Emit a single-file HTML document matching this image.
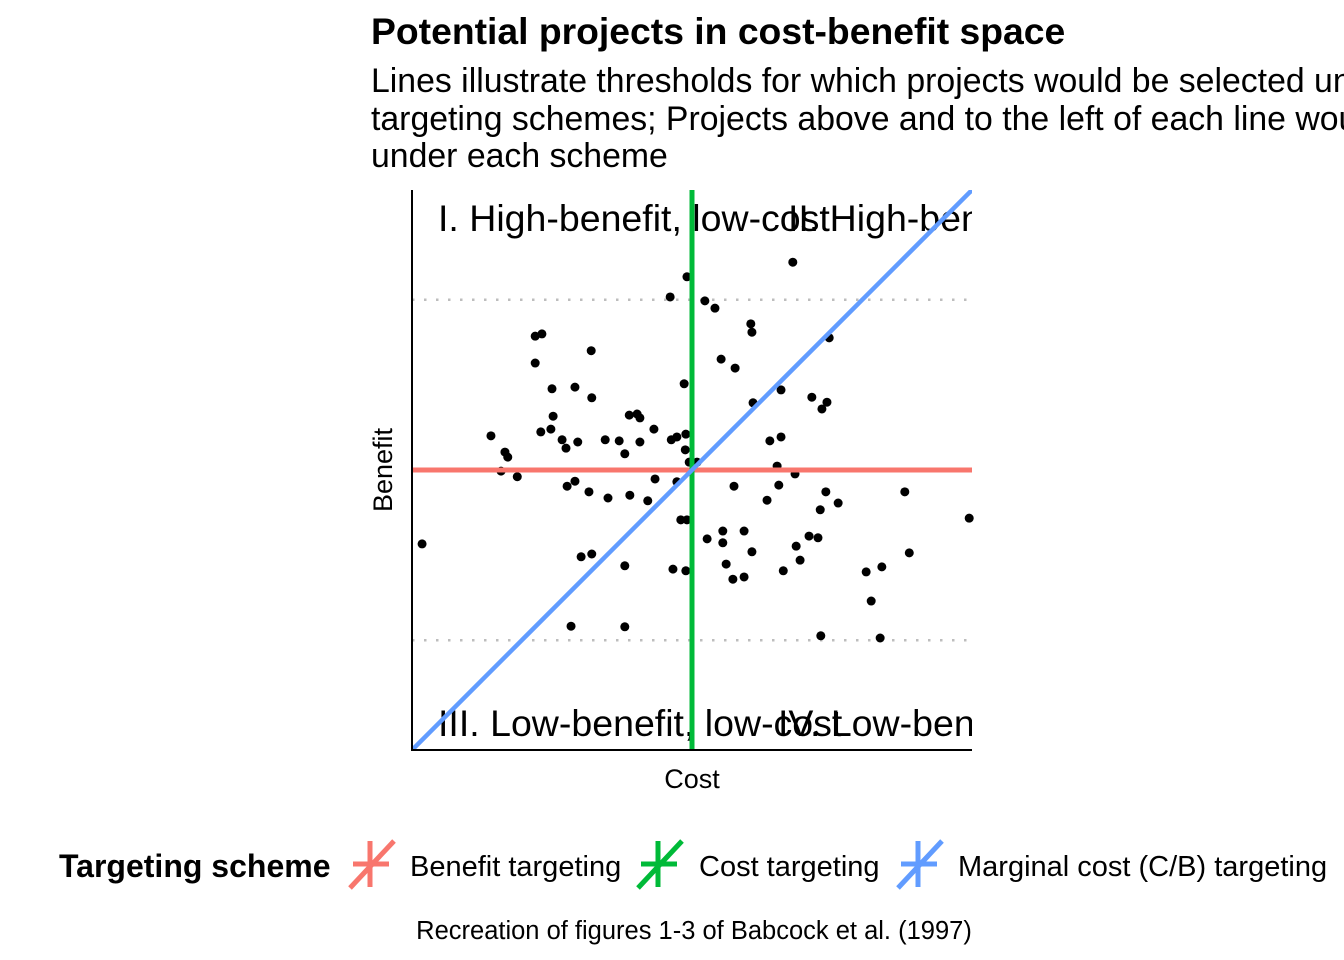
<!DOCTYPE html>
<html><head><meta charset="utf-8"><style>
body{margin:0;background:#fff;width:1344px;height:960px;overflow:hidden}
svg{display:block;font-family:"Liberation Sans",Arial,sans-serif}
</style></head><body>
<svg id="chart" width="1344" height="960">
<defs><clipPath id="pc"><rect x="412" y="190" width="560" height="560"/></clipPath></defs>
<text x="371" y="44" font-size="37.3" font-weight="bold">Potential projects in cost-benefit space</text>
<g font-size="33.8">
<text x="371" y="92">Lines illustrate thresholds for which projects would be selected under different</text>
<text x="371" y="130">targeting schemes; Projects above and to the left of each line would be selected</text>
<text x="371" y="167">under each scheme</text>
</g>
<g id="grid"></g>
<g clip-path="url(#pc)" font-size="37.5">
<text x="438" y="231">I. High-benefit, low-cost</text>
<text x="788" y="231">II. High-benefit, high-cost</text>
<text x="438" y="736">III. Low-benefit, low-cost</text>
<text x="778" y="736">IV. Low-benefit, high-cost</text>
</g>
<g id="points"></g>
<g id="lines" clip-path="url(#pc)"></g>
<line x1="412" y1="190" x2="412" y2="751" stroke="#000" stroke-width="2"/>
<line x1="411" y1="750" x2="972" y2="750" stroke="#000" stroke-width="2"/>
<text x="692" y="788" font-size="27" text-anchor="middle">Cost</text>
<text transform="translate(392,470) rotate(-90)" font-size="27" text-anchor="middle">Benefit</text>
<g>
<text x="59" y="877" font-size="32" font-weight="bold">Targeting scheme</text>
<g><g stroke="#F8766D" stroke-width="5"><line x1="370" y1="841" x2="370" y2="887"/><line x1="353" y1="864" x2="389" y2="864"/><line x1="350" y1="888" x2="394" y2="841"/></g><text x="410" y="876" font-size="29">Benefit targeting</text></g>
<g><g stroke="#00BA38" stroke-width="5"><line x1="658" y1="841" x2="658" y2="887"/><line x1="641" y1="864" x2="677" y2="864"/><line x1="638" y1="888" x2="682" y2="841"/></g><text x="699" y="876" font-size="29">Cost targeting</text></g>
<g><g stroke="#619CFF" stroke-width="5"><line x1="918" y1="841" x2="918" y2="887"/><line x1="901" y1="864" x2="937" y2="864"/><line x1="898" y1="888" x2="942" y2="841"/></g><text x="958" y="876" font-size="29">Marginal cost (C/B) targeting</text></g>
</g>
<text x="694" y="939" font-size="25.5" text-anchor="middle">Recreation of figures 1-3 of Babcock et al. (1997)</text>
</svg>
<script>
const costs=[49.1,46.1,22.0,23.2,22.0,32.0,25.0,29.1,32.1,25.2,38.8,40.2,40.7,23.0,24.8,14.1,16.6,17.1,26.8,27.5,29.6,34.5,37.0,40.7,38.0,43.2,48.6,46.3,47.3,48.9,48.8,49.5,50.9,15.9,18.8,27.7,29.1,31.6,35.0,38.9,42.1,43.4,47.3,48.0,49.1,1.8,30.2,32.1,38.0,46.6,48.9,28.4,38.0,68.0,52.3,54.1,60.5,60.7,74.5,55.2,57.7,65.9,60.9,71.4,74.1,73.2,63.9,65.9,65.2,68.4,57.5,65.5,63.4,73.9,76.1,72.9,88.0,99.5,52.7,55.5,55.5,59.3,60.7,56.1,57.3,59.3,66.3,68.6,69.3,70.9,72.5,81.1,83.9,88.8,82.0,73.0,83.6];
const benefits=[84.5,80.9,73.9,74.3,69.1,71.3,64.5,64.8,62.9,59.6,59.8,60.0,59.3,56.8,57.3,56.1,53.2,52.3,55.4,53.9,55.0,55.4,55.2,55.0,52.9,57.3,65.4,55.4,55.9,56.4,53.6,51.4,51.4,49.8,48.8,47.1,48.0,46.1,45.0,45.5,44.5,48.4,47.9,41.1,41.1,36.8,34.5,35.0,32.9,32.3,32.0,22.1,22.0,87.1,80.2,78.9,76.1,74.6,73.6,69.8,68.2,64.3,62.0,63.0,62.1,60.9,55.2,55.9,50.7,49.3,47.1,47.3,44.6,46.1,44.1,42.9,46.1,41.4,37.7,39.1,37.0,39.1,35.4,33.2,30.5,30.9,32.0,36.4,33.9,38.2,37.9,31.8,32.7,35.2,26.6,20.4,20.0];
const gridBenefits=[19.6,80.4];
const benefitThreshold=[50];
const costThreshold=[50];
const cbSlope=[1];
const NS="http://www.w3.org/2000/svg";
const X0=412,X1=972,Y0=750,Y1=190;
function sx(v){return X0+v/100*(X1-X0);}
function sy(v){return Y0-v/100*(Y0-Y1);}
function mk(tag,attrs,parent){const e=document.createElementNS(NS,tag);for(const k in attrs)e.setAttribute(k,attrs[k]);parent.appendChild(e);return e;}
const grid=document.getElementById('grid');
gridBenefits.forEach(g=>{
 const l=mk('line',{x1:X0,x2:X1,y1:sy(g),y2:sy(g),stroke:'#bdbdbd','stroke-width':2.5,'stroke-dasharray':'2.5 9.5'},grid);
 
 
});
const pts=document.getElementById('points');
costs.forEach((c,i)=>{
 const p=mk('circle',{cx:sx(c),cy:sy(benefits[i]),r:4.5,fill:'#000'},pts);
 
 
});
const ln=document.getElementById('lines');
const r=mk('line',{x1:X0,x2:X1,y1:sy(benefitThreshold[0]),y2:sy(benefitThreshold[0]),stroke:'#F8766D','stroke-width':5},ln);


const g=mk('line',{x1:sx(costThreshold[0]),x2:sx(costThreshold[0]),y1:Y1,y2:Y0,stroke:'#00BA38','stroke-width':5},ln);


const b=mk('line',{x1:sx(0),y1:sy(0),x2:sx(100),y2:sy(100*cbSlope[0]),stroke:'#619CFF','stroke-width':4.5},ln);


</script>
</body></html>
